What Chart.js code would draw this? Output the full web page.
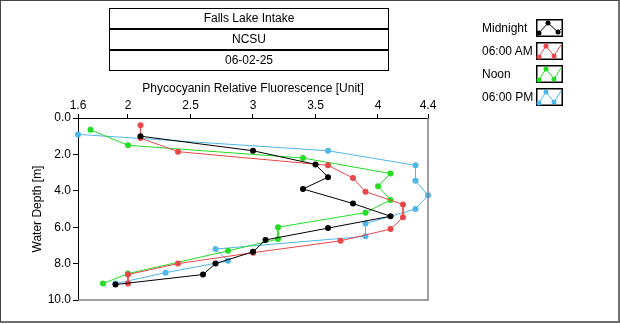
<!DOCTYPE html>
<html>
<head>
<meta charset="utf-8">
<script src="https://cdn.jsdelivr.net/npm/chart.js@4.4.1/dist/chart.umd.min.js"></script>
<style>
  html, body { margin: 0; padding: 0; background: #fff; }
  #wrap { position: relative; width: 620px; height: 324px; overflow: hidden;
          font-family: "Liberation Sans", Arial, sans-serif; font-size: 12px; color: #000; }
  #frame { position: absolute; left: 0; top: 0; width: 617px; height: 320px;
           border-left: 1px solid #444; border-top: 1px solid #444;
           border-right: 2px solid #707070; border-bottom: 2px solid #707070; pointer-events: none; }
  #myChart { position: absolute; left: 0; top: 0; }
  #titles { position: absolute; left: 109px; top: 8px; width: 278px; border: 1px solid #000; }
  #titles div { height: 19px; line-height: 19px; text-align: center; }
  #titles div + div { border-top: 2px solid #000; }
  .leg { position: absolute; left: 482px; height: 18px; line-height: 18px; }
  .leg canvas { position: absolute; left: 54px; top: 0; }
</style>
</head>
<body>
<div id="wrap">
  <canvas id="myChart" width="620" height="324"></canvas>
  <div id="titles">
    <div>Falls Lake Intake</div>
    <div>NCSU</div>
    <div>06-02-25</div>
  </div>
  <div id="legend"></div>
  <div id="frame"></div>
</div>
<script>
// fluorescence (x) and depth (y) for each profile
const seriesNames = ['Midnight', '06:00 AM', 'Noon', '06:00 PM'];
const seriesColors = ['#000000', '#e8484a', '#22dd22', '#4fb6ea'];

const fluorMidnight = [2.1, 3.0, 3.5, 3.6, 3.4, 3.8, 4.1, 3.6, 3.1, 3.0, 2.7, 2.6, 1.9];
const depthMidnight = [1.0, 1.8, 2.55, 3.25, 3.9, 4.7, 5.4, 6.05, 6.7, 7.35, 8.0, 8.6, 9.15];

const fluorMorning = [2.1, 2.1, 2.4, 3.6, 3.8, 3.9, 4.2, 4.2, 4.1, 3.7, 3.0, 2.4, 2.0, 2.0];
const depthMorning = [0.4, 1.1, 1.85, 2.6, 3.3, 4.05, 4.75, 5.45, 6.1, 6.75, 7.4, 8.0, 8.6, 9.1];

const fluorNoon = [1.7, 2.0, 3.4, 4.1, 4.0, 4.1, 3.9, 3.2, 3.2, 2.8, 2.0, 1.8];
const depthNoon = [0.65, 1.5, 2.2, 3.05, 3.75, 4.5, 5.2, 6.0, 6.65, 7.3, 8.55, 9.1];

const fluorEvening = [1.6, 3.6, 4.3, 4.3, 4.4, 4.3, 3.9, 3.9, 2.7, 2.8, 2.3, 1.9];
const depthEvening = [0.9, 1.8, 2.6, 3.45, 4.25, 5.0, 5.8, 6.5, 7.2, 7.85, 8.5, 9.1];

const xTicks = [1.6, 2, 2.5, 3, 3.5, 4, 4.4];
const yTicks = [0, 2, 4, 6, 8, 10];

const profiles = [
    [fluorMidnight, depthMidnight],
    [fluorMorning, depthMorning],
    [fluorNoon, depthNoon],
    [fluorEvening, depthEvening]
];

const FONT = { family: '"Liberation Sans", Arial, sans-serif', size: 12 };

const datasets = profiles.map(([xs, ys], i) => ({
    label: seriesNames[i],
    data: xs.map((x, k) => ({ x: x, y: ys[k] })),
    showLine: true,
    borderColor: seriesColors[i],
    backgroundColor: seriesColors[i],
    borderWidth: 1,
    pointRadius: 3,
    pointHoverRadius: 3,
    pointBorderWidth: 0,
    tension: 0,
    clip: 6
}));

const plotFrame = {
    id: 'plotFrame',
    afterDraw(chart) {
        const { ctx, chartArea: a } = chart;
        ctx.save();
        ctx.strokeStyle = '#808080';
        ctx.lineWidth = 1.5;
        ctx.beginPath();
        ctx.moveTo(a.right, a.top);
        ctx.lineTo(a.right, a.bottom);
        ctx.lineTo(a.left, a.bottom);
        ctx.stroke();
        ctx.restore();
    }
};

new Chart(document.getElementById('myChart').getContext('2d'), {
    type: 'scatter',
    data: { datasets },
    options: {
        responsive: false,
        animation: false,
        events: [],
        layout: { padding: { left: 0, top: 70, right: 192, bottom: 24 } },
        plugins: { legend: { display: false }, tooltip: { enabled: false } },
        scales: {
            x: {
                type: 'linear',
                position: 'top',
                min: 1.6,
                max: 4.4,
                afterBuildTicks: s => { s.ticks = xTicks.map(v => ({ value: v })); },
                afterFit: s => { s.height = 48; },
                ticks: { color: '#000', font: FONT, padding: 1, maxRotation: 0,
                         callback: v => String(v) },
                grid: { drawOnChartArea: false, tickLength: 4, color: '#000' },
                border: { display: true, color: '#000', width: 1 },
                title: { display: true, text: 'Phycocyanin Relative Fluorescence [Unit]',
                         color: '#000', font: FONT, padding: { top: 11, bottom: 0 } }
            },
            y: {
                type: 'linear',
                reverse: true,
                min: 0,
                max: 10,
                afterBuildTicks: s => { s.ticks = yTicks.map(v => ({ value: v })); },
                afterFit: s => { s.width = 78; },
                ticks: { color: '#000', font: FONT, padding: 2,
                         callback: v => Number(v).toFixed(1) },
                grid: { drawOnChartArea: false, tickLength: 5, color: '#000' },
                border: { display: true, color: '#000', width: 1 },
                title: { display: true, text: 'Water Depth [m]', color: '#000', font: FONT,
                         padding: { top: 30, bottom: 0 } }
            }
        }
    },
    plugins: [plotFrame]
});

// legend rows with small line icons
const legend = document.getElementById('legend');
const legendTops = [19, 42, 65, 88];
seriesNames.forEach((name, i) => {
    const row = document.createElement('div');
    row.className = 'leg';
    row.style.top = legendTops[i] + 'px';
    row.textContent = name;
    const c = document.createElement('canvas');
    c.width = 27; c.height = 18;
    row.appendChild(c);
    legend.appendChild(row);
    const g = c.getContext('2d');
    g.strokeStyle = '#000';
    g.lineWidth = 1.5;
    g.strokeRect(0.75, 0.75, 25.5, 16.5);
    g.strokeStyle = seriesColors[i];
    g.fillStyle = seriesColors[i];
    g.lineWidth = 1;
    const pts = i === 0
        ? [[3, 14], [12, 4], [22, 13], [25, 10]]
        : [[2, 16], [10, 4], [18, 14], [25, 3]];
    g.beginPath();
    pts.forEach(([px, py], k) => k ? g.lineTo(px, py) : g.moveTo(px, py));
    g.stroke();
    const dots = i === 0 ? [[3, 14], [12, 4], [22, 13]] : [[10, 4], [18, 14], [3, 15]];
    dots.forEach(([px, py]) => { g.beginPath(); g.arc(px, py, 2.5, 0, Math.PI * 2); g.fill(); });
});
</script>
</body>
</html>
